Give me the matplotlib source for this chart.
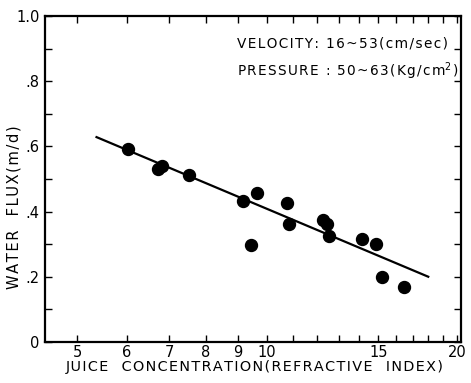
import matplotlib
matplotlib.use("Agg")
import matplotlib.pyplot as plt
from matplotlib.ticker import FixedLocator, FixedFormatter, NullFormatter

# Measured water flux against juice concentration
conc = [6.03, 6.72, 6.81, 7.53, 9.17, 9.43, 9.65, 10.77, 10.84,
        12.27, 12.43, 12.53, 14.13, 14.88, 15.22, 16.48]
flux = [0.592, 0.531, 0.540, 0.512, 0.433, 0.298, 0.456, 0.428, 0.361,
        0.374, 0.362, 0.325, 0.315, 0.300, 0.201, 0.170]

# Fitted trend line (end points)
fit_x = [5.35, 18.06]
fit_y = [0.630, 0.199]

x_major = [5, 6, 7, 8, 9, 10, 15, 20]
x_minor = [11, 12, 13, 14, 16, 17, 18, 19]
y_major = [0, 0.2, 0.4, 0.6, 0.8, 1.0]
y_labels = ["0", ".2", ".4", ".6", ".8", "1.0"]
y_minor = [0.1, 0.3, 0.5, 0.7, 0.9]


def spaced(s, gap="\u200a"):
    """Insert a narrow gap between letters for a typewriter-like look."""
    return gap.join(s)


plt.rcParams["font.family"] = "DejaVu Sans"
fig = plt.figure(figsize=(4.71, 3.83), dpi=100)
ax = fig.add_axes([0.0955, 0.107, 0.884, 0.851])

ax.plot(fit_x, fit_y, color="black", lw=1.6, solid_capstyle="butt")
ax.plot(conc, flux, "o", color="black", ms=8.6, mec="black")

ax.set_xscale("log")
ax.set_xlim(4.45, 20.3)
ax.set_ylim(0, 1.0)

ax.xaxis.set_major_locator(FixedLocator(x_major))
ax.xaxis.set_major_formatter(FixedFormatter([str(v) for v in x_major]))
ax.xaxis.set_minor_locator(FixedLocator(x_minor))
ax.xaxis.set_minor_formatter(NullFormatter())
ax.yaxis.set_major_locator(FixedLocator(y_major))
ax.yaxis.set_major_formatter(FixedFormatter(y_labels))
ax.yaxis.set_minor_locator(FixedLocator(y_minor))

ax.tick_params(which="both", direction="in", top=True, right=True,
               width=1.0, labelsize=10.5, color="black")
ax.tick_params(which="major", length=5, pad=4)
ax.tick_params(axis="x", which="major", pad=2)
ax.tick_params(which="minor", length=5)

for s in ax.spines.values():
    s.set_linewidth(1.6)

ax.text(0.46, 0.915, spaced("VELOCITY: 16~53(cm/sec)"), transform=ax.transAxes,
        fontsize=9.8, ha="left", va="center")
ax.text(0.46, 0.83, spaced("PRESSURE : 50~63(Kg/cm") + "$^2$" + "\u200a)",
        transform=ax.transAxes, fontsize=9.8, ha="left", va="center")

fig.text(0.540, 0.042, spaced("JUICE  CONCENTRATION(REFRACTIVE  INDEX)"),
         fontsize=10.4, ha="center", va="center")
fig.text(0.030, 0.458, spaced("WATER  FLUX(m/d)"), rotation=90,
         fontsize=10.6, ha="center", va="center")

fig.savefig("out.png", dpi=100)
